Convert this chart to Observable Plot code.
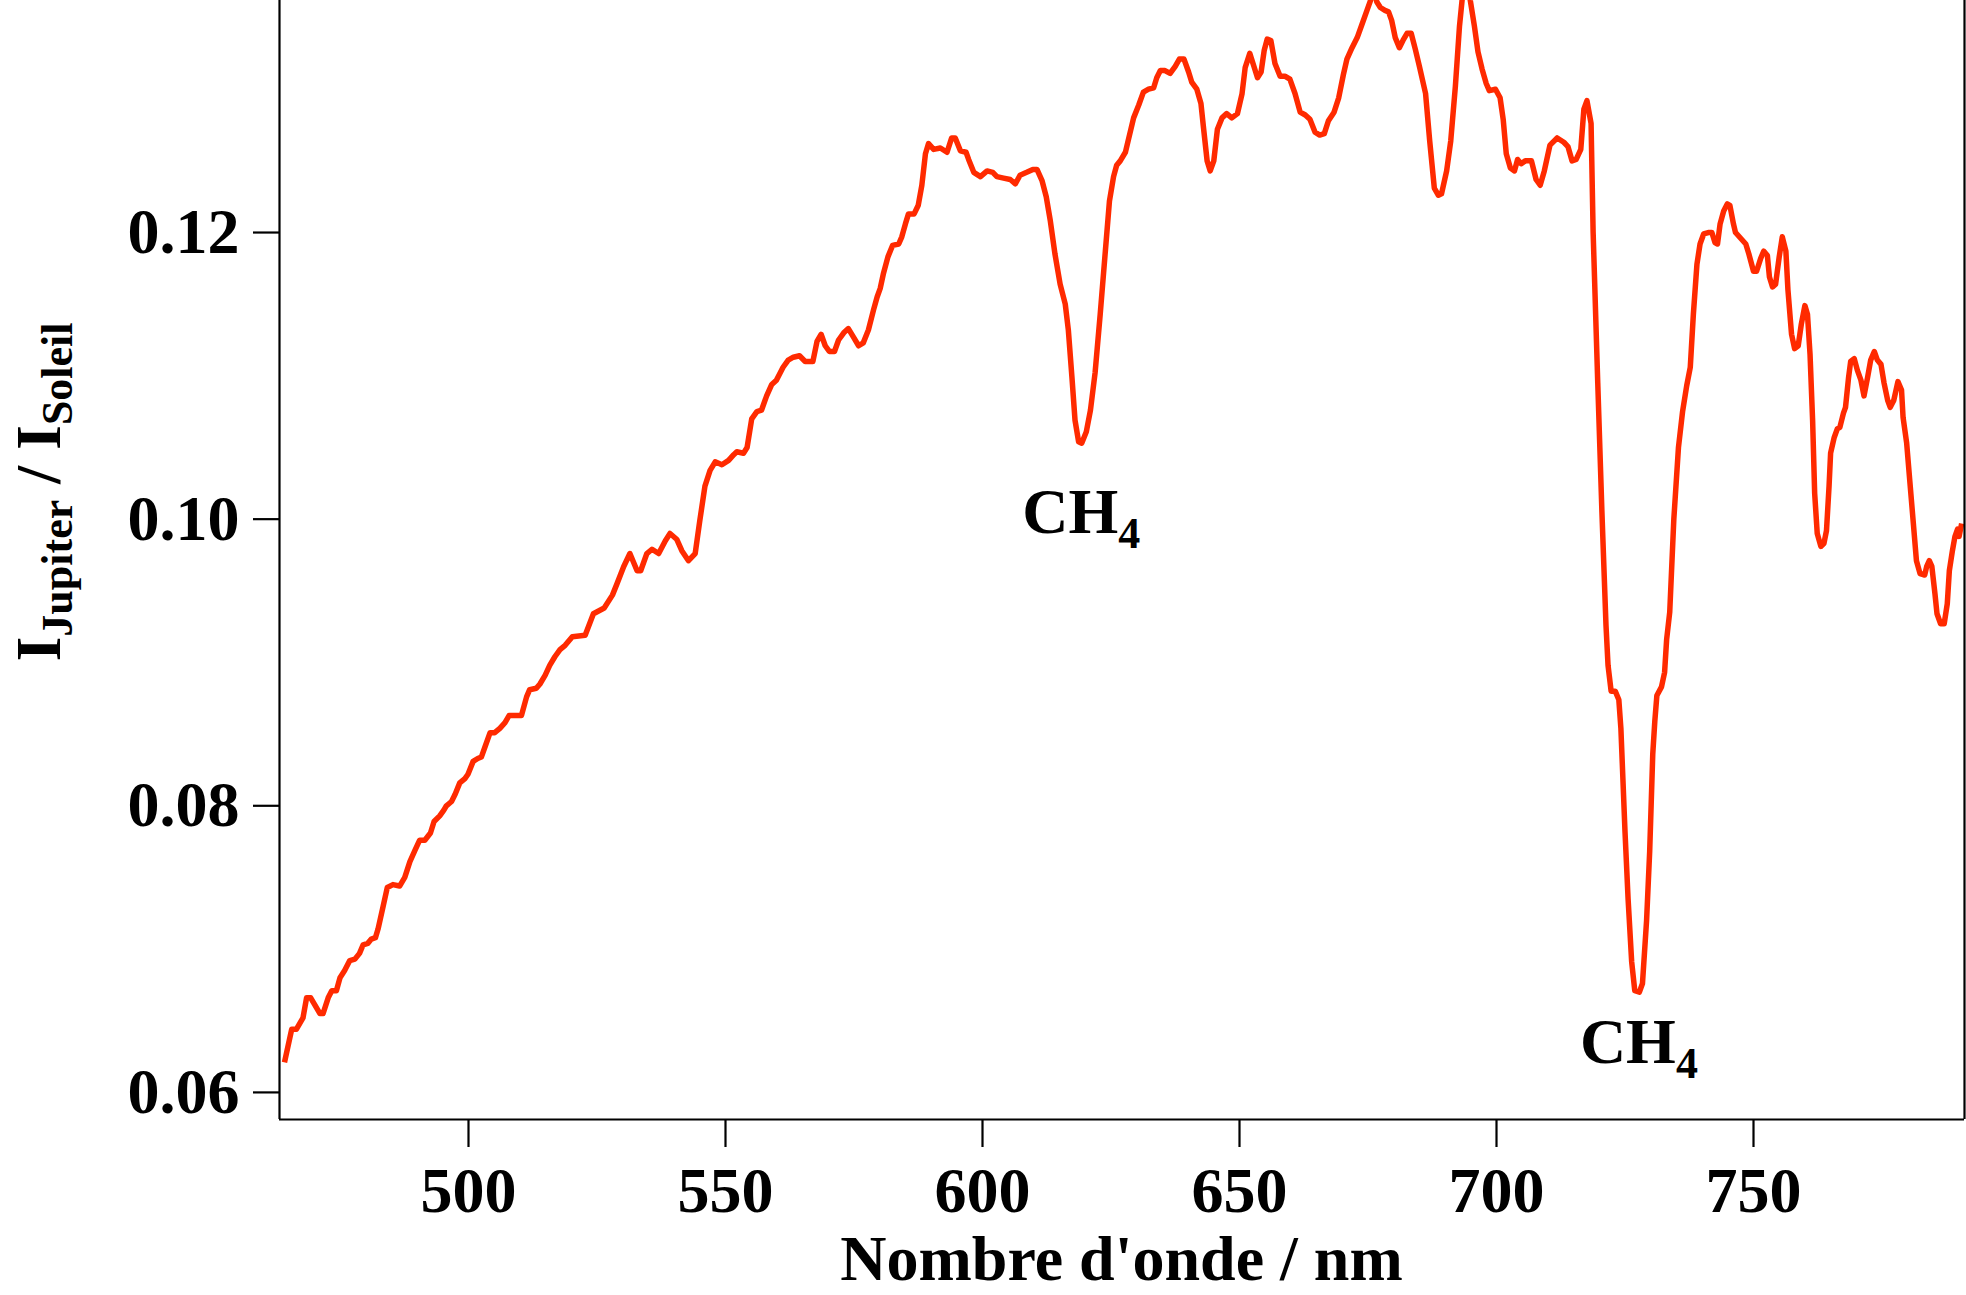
<!DOCTYPE html>
<html>
<head>
<meta charset="utf-8">
<script src="https://cdn.jsdelivr.net/npm/d3@7"></script>
<script src="https://cdn.jsdelivr.net/npm/@observablehq/plot@0.6"></script>
<style>
  html, body { margin: 0; padding: 0; background: #ffffff; }
  #chart { width: 1966px; height: 1295px; overflow: hidden; }
</style>
</head>
<body>
<div id="chart"></div>
<script>
// ---- data ----
const wavelength = [
  464.2,465.6,466.5,467.8,468.5,469.3,471.1,471.7,472.7,473.4,474.3,475.0,475.9,476.9,477.9,478.8,479.5,480.4,481.1,481.9,
  482.4,483.4,484.2,485.3,486.6,487.6,488.6,489.6,490.5,491.5,492.6,493.3,494.4,495.2,495.7,496.7,497.4,498.3,499.3,499.9,
  500.9,501.8,502.5,503.2,504.2,505.1,506.1,507.1,507.9,510.3,511.3,511.9,513.2,513.9,514.9,515.8,516.8,517.8,518.8,520.2,
  522.7,524.3,526.4,528.0,528.9,530.2,531.4,532.8,533.5,534.7,535.7,537.0,538.3,539.2,540.5,541.5,542.8,544.1,545.0,546.0,
  547.0,548.0,549.3,550.6,551.6,552.2,553.5,554.2,555.1,556.1,557.0,558.0,559.0,559.9,561.2,562.2,563.2,564.4,565.5,567.0,
  567.8,568.6,569.4,570.2,571.2,572.0,573.0,573.9,574.9,575.9,576.8,577.8,578.8,579.5,580.1,580.7,581.6,582.5,583.7,584.3,
  585.0,585.6,586.7,587.5,588.2,588.9,589.5,590.5,591.8,593.1,594.0,594.7,595.7,596.8,597.3,598.3,599.6,600.9,602.0,602.8,
  604.1,605.4,606.4,607.3,608.6,609.8,610.6,611.6,612.4,613.2,614.1,615.1,616.1,616.7,617.4,618.0,618.7,619.3,620.2,621.0,
  621.9,622.9,623.9,624.7,625.5,626.1,626.8,627.8,628.4,629.4,630.4,631.3,632.3,633.3,633.9,634.6,635.5,636.5,637.5,638.3,
  639.2,640.1,640.7,641.7,642.5,643.0,643.7,644.3,645.0,645.7,646.6,647.5,648.5,649.6,650.5,651.1,652.0,652.8,653.5,654.2,
  654.8,655.4,656.1,656.9,657.9,658.9,659.8,660.8,661.8,662.8,663.7,664.7,665.6,666.5,667.3,668.4,669.3,670.2,670.9,671.9,
  672.9,673.8,674.8,675.5,676.1,676.7,677.4,678.3,679.0,679.6,680.3,681.1,681.8,682.6,683.4,684.2,685.0,686.2,687.0,687.9,
  688.7,689.3,690.3,691.1,692.0,692.8,693.3,694.1,694.9,695.7,696.4,697.2,698.0,698.6,699.8,700.7,701.3,701.9,702.7,703.5,
  704.1,704.8,705.6,706.8,707.7,708.5,709.3,710.4,711.8,713.1,713.9,714.7,715.5,716.4,717.0,717.6,718.4,718.8,719.7,720.5,
  721.3,721.7,722.3,723.1,723.8,724.2,725.0,725.6,726.3,726.9,727.8,728.4,729.2,729.8,730.4,730.8,731.2,732.1,732.7,733.1,
  733.7,734.5,735.4,736.2,737.0,737.7,738.3,739.0,739.6,740.3,741.2,741.9,742.5,743.0,743.5,744.2,744.9,745.4,746.1,746.5,
  747.5,748.5,749.1,750.0,750.6,751.4,752.0,752.7,753.1,753.7,754.3,755.0,755.6,756.3,756.7,757.4,758.0,758.7,759.3,760.0,
  760.5,761.0,761.5,761.9,762.4,763.1,763.7,764.2,764.7,765.0,765.7,766.3,766.8,767.5,767.9,768.5,768.9,769.6,770.2,770.9,
  771.5,772.2,772.8,773.5,774.1,774.8,775.4,776.1,776.6,777.3,778.1,778.8,779.1,779.8,780.4,781.1,781.7,782.4,783.3,783.7,
  784.2,784.7,785.3,785.7,786.4,787.1,787.7,788.1,788.7,789.2,789.7,790.0,790.5
];
const ratio = [
  0.0621,0.0644,0.0644,0.0652,0.0666,0.0666,0.0655,0.0655,0.0666,0.0671,0.0671,0.0680,0.0685,0.0692,0.0693,0.0697,0.0703,0.0704,0.0707,0.0708,
  0.0714,0.0730,0.0743,0.0745,0.0744,0.0750,0.0761,0.0769,0.0776,0.0776,0.0781,0.0789,0.0793,0.0797,0.0800,0.0803,0.0808,0.0816,0.0819,0.0822,
  0.0831,0.0833,0.0834,0.0841,0.0851,0.0851,0.0854,0.0858,0.0863,0.0863,0.0876,0.0881,0.0882,0.0885,0.0891,0.0898,0.0904,0.0909,0.0912,0.0918,
  0.0919,0.0934,0.0938,0.0947,0.0955,0.0967,0.0976,0.0964,0.0964,0.0976,0.0979,0.0976,0.0985,0.0990,0.0986,0.0978,0.0971,0.0976,0.0999,0.1023,
  0.1034,0.1040,0.1038,0.1041,0.1045,0.1047,0.1046,0.1050,0.1070,0.1075,0.1076,0.1086,0.1094,0.1097,0.1106,0.1111,0.1113,0.1114,0.1110,0.1110,
  0.1124,0.1129,0.1121,0.1117,0.1117,0.1125,0.1130,0.1133,0.1127,0.1121,0.1123,0.1132,0.1146,0.1155,0.1161,0.1171,0.1183,0.1191,0.1192,0.1197,
  0.1206,0.1213,0.1213,0.1219,0.1233,0.1255,0.1262,0.1258,0.1259,0.1256,0.1266,0.1266,0.1257,0.1256,0.1251,0.1242,0.1239,0.1243,0.1242,0.1239,
  0.1238,0.1237,0.1234,0.1240,0.1242,0.1244,0.1244,0.1236,0.1225,0.1208,0.1185,0.1164,0.1150,0.1132,0.1099,0.1069,0.1054,0.1053,0.1061,0.1076,
  0.1102,0.1143,0.1187,0.1222,0.1239,0.1247,0.1250,0.1256,0.1265,0.1280,0.1289,0.1298,0.1300,0.1301,0.1308,0.1313,0.1313,0.1311,0.1316,0.1321,
  0.1321,0.1312,0.1305,0.1300,0.1290,0.1273,0.1250,0.1243,0.1250,0.1272,0.1280,0.1283,0.1280,0.1283,0.1297,0.1315,0.1325,0.1316,0.1308,0.1312,
  0.1327,0.1335,0.1334,0.1318,0.1309,0.1309,0.1307,0.1297,0.1284,0.1282,0.1279,0.1270,0.1268,0.1269,0.1278,0.1284,0.1294,0.1310,0.1321,0.1329,
  0.1336,0.1345,0.1355,0.1362,0.1372,0.1361,0.1357,0.1355,0.1354,0.1348,0.1336,0.1329,0.1334,0.1339,0.1339,0.1328,0.1316,0.1297,0.1264,0.1231,
  0.1226,0.1227,0.1243,0.1264,0.1302,0.1344,0.1362,0.1390,0.1362,0.1344,0.1326,0.1314,0.1304,0.1299,0.1300,0.1294,0.1279,0.1255,0.1245,0.1243,
  0.1251,0.1248,0.1250,0.1250,0.1237,0.1233,0.1243,0.1261,0.1266,0.1263,0.1260,0.1250,0.1251,0.1258,0.1286,0.1292,0.1276,0.1200,0.1095,0.1006,
  0.0926,0.0898,0.0880,0.0880,0.0874,0.0854,0.0782,0.0735,0.0691,0.0671,0.0670,0.0676,0.0720,0.0768,0.0836,0.0859,0.0877,0.0883,0.0893,0.0916,
  0.0935,0.1000,0.1050,0.1075,0.1093,0.1106,0.1143,0.1178,0.1192,0.1199,0.1200,0.1200,0.1193,0.1192,0.1206,0.1215,0.1220,0.1219,0.1206,0.1200,
  0.1196,0.1192,0.1185,0.1173,0.1173,0.1182,0.1187,0.1184,0.1169,0.1162,0.1164,0.1183,0.1197,0.1187,0.1160,0.1129,0.1119,0.1121,0.1136,0.1149,
  0.1143,0.1115,0.1069,0.1018,0.0990,0.0981,0.0983,0.0992,0.1023,0.1046,0.1057,0.1063,0.1064,0.1074,0.1078,0.1099,0.1110,0.1112,0.1104,0.1097,
  0.1086,0.1099,0.1111,0.1117,0.1111,0.1108,0.1095,0.1083,0.1078,0.1083,0.1096,0.1090,0.1071,0.1053,0.1027,0.0997,0.0971,0.0962,0.0961,0.0967,
  0.0971,0.0967,0.0948,0.0934,0.0927,0.0927,0.0941,0.0964,0.0978,0.0988,0.0993,0.0988,0.0997
];
const xTicks = [500, 550, 600, 650, 700, 750];
const yTicks = [0.06, 0.08, 0.10, 0.12];
const bandNames = ["CH", "CH"];
const bandSubs = ["4", "4"];
const bandNm = [619.3, 727.8];
const bandValue = [0.0990, 0.0620];
const xTitle = "Nombre d'onde / nm";

// ---- layout ----
const W = 1966, H = 1295;
const ML = 279, MR = 2, MT = 0, MB = 176;
const xMin = 463.23, xMax = 791.05;
const yMin = 0.05811, yMax = 0.13619;
const FONT = '"Liberation Serif", "Times New Roman", Times, serif';
const RED = "#ff2a00";

const data = wavelength.map((w, i) => ({ w, r: ratio[i] }));

const chart = Plot.plot({
  width: W,
  height: H,
  marginLeft: ML,
  marginRight: MR,
  marginTop: MT,
  marginBottom: MB,
  style: { fontFamily: FONT, fontWeight: "bold", fontSize: "64px", background: "#ffffff", color: "#000000", overflow: "hidden" },
  x: { domain: [xMin, xMax], label: null },
  y: { domain: [yMin, yMax], label: null },
  marks: [
    Plot.line(data, { x: "w", y: "r", stroke: RED, strokeWidth: 5.5, strokeLinejoin: "round", strokeLinecap: "butt", clip: true }),
    Plot.ruleX([xMin], { stroke: "#000", strokeWidth: 2.2 }),
    Plot.ruleX([xMax], { stroke: "#000", strokeWidth: 2.2 }),
    Plot.ruleY([yMin], { stroke: "#000", strokeWidth: 2.2 }),
    Plot.axisX({ ticks: xTicks, tickSize: 28, tickPadding: 19, strokeWidth: 2.2, fontSize: 64, fontWeight: "bold", fontFamily: FONT, label: null, tickFormat: d => String(d) }),
    Plot.axisY({ ticks: yTicks, tickSize: 26, tickPadding: 14, strokeWidth: 2.2, fontSize: 64, fontWeight: "bold", fontFamily: FONT, label: null, tickFormat: d3.format(".2f") })
  ]
});

document.getElementById("chart").appendChild(chart);

const svg = d3.select(chart);
const sx = chart.scale("x"), sy = chart.scale("y");

// band labels (CH4)
bandNm.forEach((nm, i) => {
  const t = svg.append("text")
    .attr("x", sx.apply(nm))
    .attr("y", sy.apply(bandValue[i]))
    .attr("text-anchor", "middle")
    .attr("font-family", FONT)
    .attr("font-weight", "bold")
    .attr("font-size", 64)
    .attr("fill", "#000");
  t.append("tspan").text(bandNames[i]);
  t.append("tspan").attr("font-size", 44).attr("dy", 15).text(bandSubs[i]);
});

// x axis title
svg.append("text")
  .attr("x", (ML + (W - MR)) / 2)
  .attr("y", 1280)
  .attr("text-anchor", "middle")
  .attr("font-family", FONT)
  .attr("font-weight", "bold")
  .attr("font-size", 64)
  .attr("fill", "#000")
  .text(xTitle);

// y axis title: I_Jupiter / I_Soleil
const yt = svg.append("text")
  .attr("transform", "translate(60,492) rotate(-90)")
  .attr("text-anchor", "middle")
  .attr("font-family", FONT)
  .attr("font-weight", "bold")
  .attr("font-size", 64)
  .attr("fill", "#000");
yt.append("tspan").text("I");
yt.append("tspan").attr("font-size", 44).attr("dy", 12).text("Jupiter");
yt.append("tspan").attr("dy", -12).text("\u00a0/\u00a0I");
yt.append("tspan").attr("font-size", 44).attr("dy", 12).text("Soleil");
</script>
</body>
</html>
